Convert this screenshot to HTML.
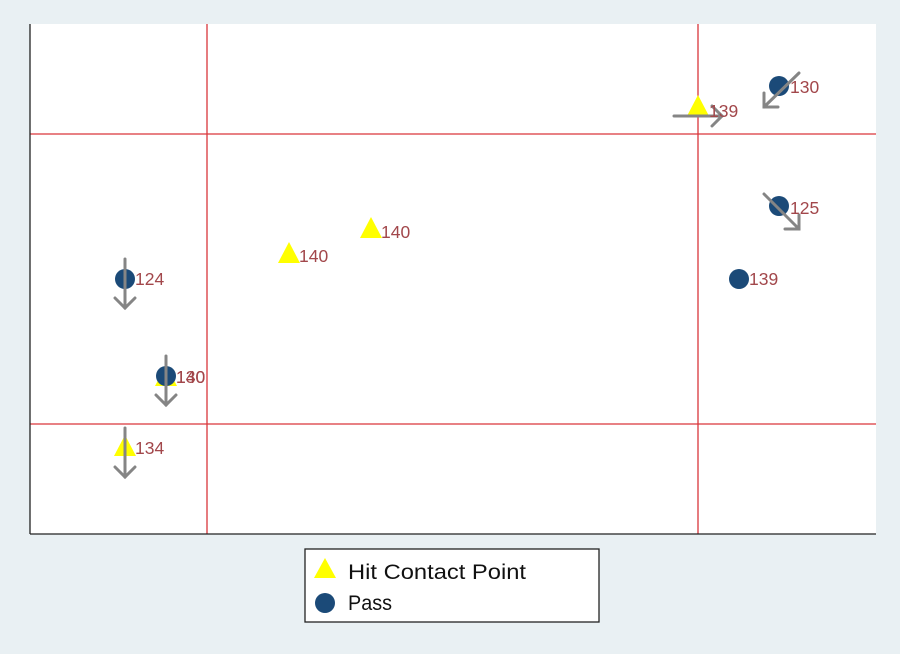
<!DOCTYPE html>
<html><head><meta charset="utf-8"><style>
html,body{margin:0;padding:0;background:#e9f0f3;}
svg{display:block;font-family:"Liberation Sans","DejaVu Sans",sans-serif;}
</style></head><body>
<svg width="900" height="654" viewBox="0 0 900 654" xmlns="http://www.w3.org/2000/svg">
<rect width="900" height="654" fill="#e9f0f3"/>
<rect x="30" y="24" width="846" height="510" fill="#fff"/>
<g stroke="#d9363b" stroke-width="1.3">
<line x1="207" y1="24" x2="207" y2="534"/>
<line x1="698" y1="24" x2="698" y2="534"/>
<line x1="30" y1="134" x2="876" y2="134"/>
<line x1="30" y1="424" x2="876" y2="424"/>
</g>
<g stroke="#222" stroke-width="1.3">
<line x1="30" y1="24" x2="30" y2="534"/>
<line x1="30" y1="534" x2="876" y2="534"/>
</g>
<g fill="#ffff00">
<polygon points="698,95 709,116 687,116"/>
<polygon points="371,217 382,238 360,238"/>
<polygon points="289,242 300,263 278,263"/>
<polygon points="166,365 177,386 155,386"/>
<polygon points="125,435 136,456 114,456"/>
</g>
<g fill="#1b4a78">
<circle cx="779" cy="86" r="10"/>
<circle cx="779" cy="206" r="10"/>
<circle cx="739" cy="279" r="10"/>
<circle cx="125" cy="279" r="10"/>
<circle cx="166" cy="376" r="10"/>
</g>
<g stroke="#858585" stroke-width="3" fill="none" stroke-linecap="round">
<line x1="674" y1="116" x2="722" y2="116"/><polyline points="712,106 722,116 712,126"/>
<line x1="799" y1="73" x2="764" y2="107"/><polyline points="764,93 764,107 778,107"/>
<line x1="764" y1="194" x2="799" y2="229"/><polyline points="785,229 799,229 799,215"/>
<line x1="125" y1="259" x2="125" y2="308"/><polyline points="115,298 125,308 135,298"/>
<line x1="166" y1="356" x2="166" y2="405"/><polyline points="156,395 166,405 176,395"/>
<line x1="125" y1="428" x2="125" y2="477"/><polyline points="115,467 125,477 135,467"/>
</g>
<g fill="#a2474b" font-size="17.5">
<text x="709" y="117">139</text>
<text x="790" y="93">130</text>
<text x="790" y="214">125</text>
<text x="749" y="285">139</text>
<text x="381" y="238">140</text>
<text x="299" y="262">140</text>
<text x="135" y="285">124</text>
<text x="176" y="383">130</text>
<text x="176" y="383">140</text>
<text x="135" y="454">134</text>
</g>
<rect x="305" y="549" width="294" height="73" fill="#fff" stroke="#222" stroke-width="1.3"/>
<polygon points="325,558 336,578 314,578" fill="#ffff00"/>
<circle cx="325" cy="603" r="10" fill="#1b4a78"/>
<g fill="#111" font-size="21">
<text x="348" y="579" textLength="178" lengthAdjust="spacingAndGlyphs">Hit Contact Point</text>
<text x="348" y="610" textLength="44" lengthAdjust="spacingAndGlyphs">Pass</text>
</g>
</svg>
</body></html>
